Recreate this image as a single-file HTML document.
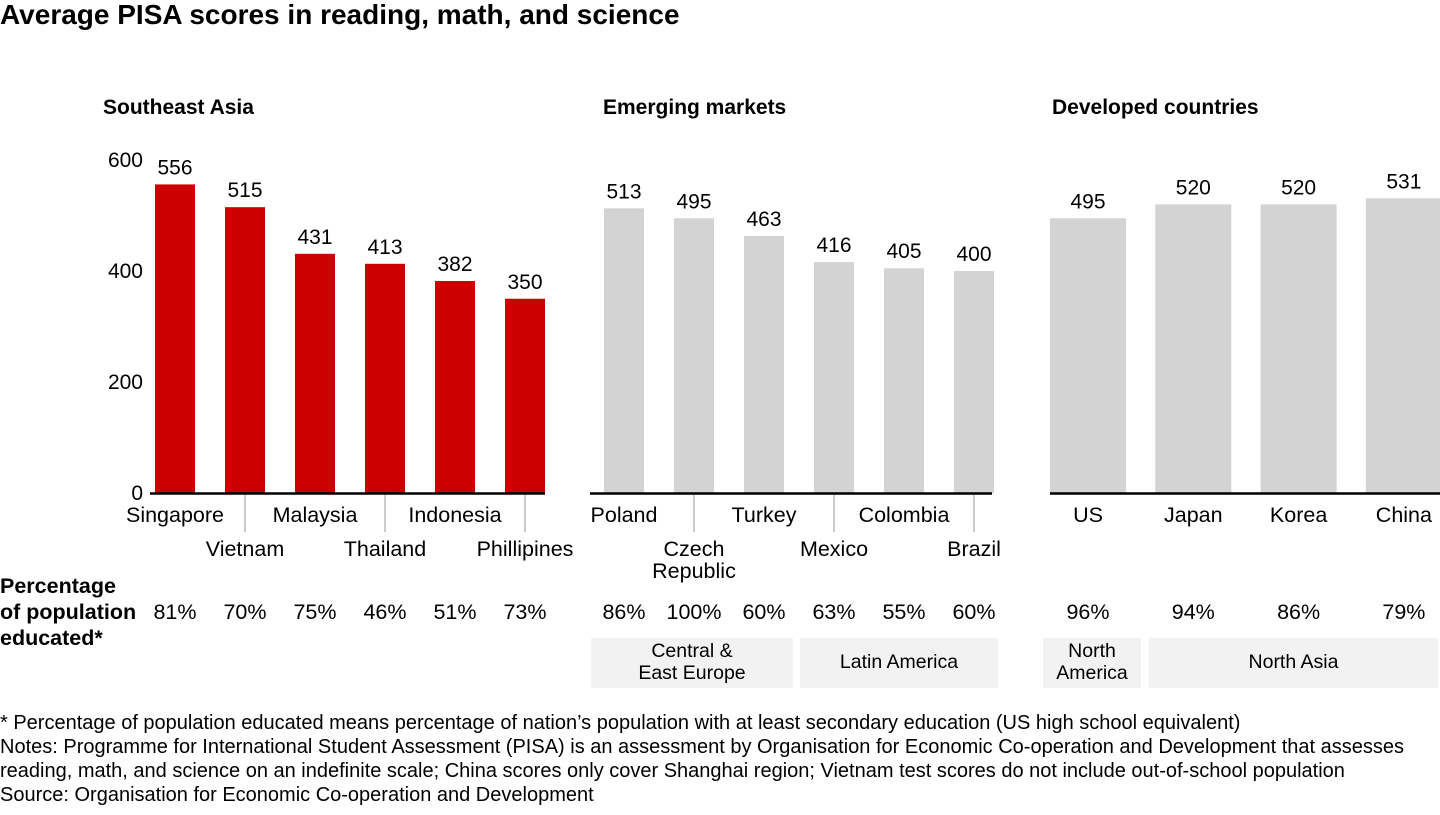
<!DOCTYPE html>
<html><head><meta charset="utf-8"><style>
body{margin:0;width:1440px;height:810px;background:#fff;font-family:"Liberation Sans",Arial,sans-serif;color:#000;overflow:hidden}
svg text{font-family:"Liberation Sans",Arial,sans-serif}
</style></head><body>
<svg width="1440" height="810">
<text x="0" y="24" font-size="28" font-weight="bold">Average PISA scores in reading, math, and science</text>
<g id="chart"></g>
<g font-size="20">
<text x="0" y="729">* Percentage of population educated means percentage of nation’s population with at least secondary education (US high school equivalent)</text>
<text x="0" y="753">Notes: Programme for International Student Assessment (PISA) is an assessment by Organisation for Economic Co-operation and Development that assesses</text>
<text x="0" y="777">reading, math, and science on an indefinite scale; China scores only cover Shanghai region; Vietnam test scores do not include out-of-school population</text>
<text x="0" y="801">Source: Organisation for Economic Co-operation and Development</text>
</g>
</svg>
<script>
const groupNames=["Southeast Asia","Emerging markets","Developed countries"];
const seaCountries=["Singapore","Vietnam","Malaysia","Thailand","Indonesia","Phillipines"];
const seaScores=[556,515,431,413,382,350];
const seaPct=["81%","70%","75%","46%","51%","73%"];
const emCountries=["Poland","Czech\nRepublic","Turkey","Mexico","Colombia","Brazil"];
const emScores=[513,495,463,416,405,400];
const emPct=["86%","100%","60%","63%","55%","60%"];
const devCountries=["US","Japan","Korea","China"];
const devScores=[495,520,520,531];
const devPct=["96%","94%","86%","79%"];
const yTicks=[0,200,400,600];

const NS="http://www.w3.org/2000/svg";
const g=document.getElementById('chart');
function el(t,a,txt){const e=document.createElementNS(NS,t);for(const k in a)e.setAttribute(k,a[k]);if(txt!==undefined)e.textContent=txt;g.appendChild(e);return e;}
const base=493, scale=111/200;
const y=v=>base-v*scale;

yTicks.forEach(t=>{
  const e=el('text',{x:143,y:y(t)+7,'font-size':21,'text-anchor':'end'},t);
  
  
});

const groups=[
 {name:groupNames[0],hx:103,cats:seaCountries,vals:seaScores,pct:seaPct,x0:155,step:70,w:40,color:'#cc0000',b0:150,b1:545,alt:true},
 {name:groupNames[1],hx:603,cats:emCountries,vals:emScores,pct:emPct,x0:604,step:70,w:40,color:'#d3d3d3',b0:590,b1:992,alt:true},
 {name:groupNames[2],hx:1052,cats:devCountries,vals:devScores,pct:devPct,x0:1050,step:105.3,w:76,color:'#d3d3d3',b0:1050,b1:1440,alt:false}
];
groups.forEach((gr,gi)=>{
  const h=el('text',{x:gr.hx,y:114,'font-size':21,'font-weight':'bold'},gr.name);
  
  
  gr.vals.forEach((v,i)=>{
    const x=gr.x0+i*gr.step, cx=x+gr.w/2;
    const r=el('rect',{x:x,y:y(v),width:gr.w,height:base-y(v),fill:gr.color});
    
    
    const t=el('text',{x:cx,y:y(v)-10,'font-size':21,'text-anchor':'middle'},v);
    
    
    const row2=gr.alt&&i%2===1;
    if(row2){
      const l=el('line',{x1:cx,x2:cx,y1:base,y2:532,stroke:'#999','stroke-width':1});
      
      
    }
    const lines=gr.cats[i].split('\n');
    lines.forEach((ln,j)=>{
      const c=el('text',{x:cx,y:(row2?556:522)+j*22,'font-size':21.5,'text-anchor':'middle'},ln);
      
      
    });
    const p=el('text',{x:cx,y:619,'font-size':21.5,'text-anchor':'middle'},gr.pct[i]);
    
    
  });
  const b=el('line',{x1:gr.b0,x2:gr.b1,y1:base+0.5,y2:base+0.5,stroke:'#000','stroke-width':2.5});
  
  
});

[["Percentage",593],["of population",619],["educated*",645]].forEach(([t,yy])=>{
  const e=el('text',{x:0,y:yy,'font-size':21.5,'font-weight':'bold'},t);
  
  
});

const regions=[["Central &\nEast Europe",591,793],["Latin America",800,998],["North\nAmerica",1043,1141],["North Asia",1149,1438]];
regions.forEach(([n,x0,x1])=>{
  const r=el('rect',{x:x0,y:638,width:x1-x0,height:50,fill:'#f2f2f2'});
  
  
  const ls=n.split('\n');
  ls.forEach((ln,j)=>{
    const t=el('text',{x:(x0+x1)/2,y:(ls.length===1?668:657)+j*22,'font-size':19.5,'text-anchor':'middle'},ln);
    
    
  });
});
</script>
</body></html>
